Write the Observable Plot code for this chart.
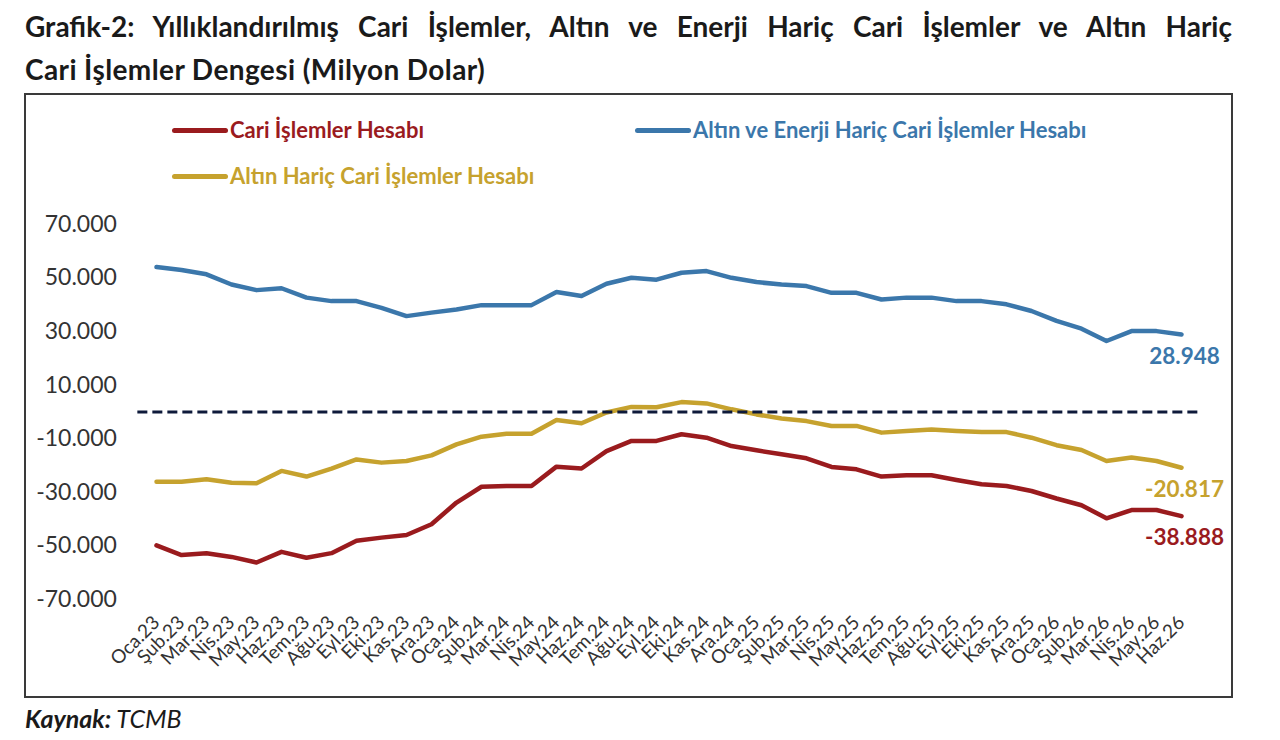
<!DOCTYPE html>
<html><head><meta charset="utf-8">
<script src="https://cdn.jsdelivr.net/npm/d3@7"></script>
<script src="https://cdn.jsdelivr.net/npm/@observablehq/plot@0.6"></script>
<style>
body{margin:0;background:#fff;font-family:Lato,"Open Sans",sans-serif;}
#wrap{position:relative;width:1280px;height:740px;overflow:hidden;background:#fff;}
#title{position:absolute;left:25px;top:5px;width:1207px;font-weight:bold;font-size:28px;line-height:43px;color:#1a1a1a;}
#t1{text-align:justify;text-align-last:justify;}
#t2{letter-spacing:0.4px;}
#box{position:absolute;left:24px;top:93px;width:1205px;height:601px;border:2px solid #3a3a3a;}
#box svg{position:absolute;left:0;top:0;}
.lg{position:absolute;display:flex;align-items:center;font-weight:bold;font-size:22px;line-height:22px;}
.sw{width:56px;height:5px;border-radius:3px;margin-right:2px;}
#src{position:absolute;left:25px;top:703px;font-size:25px;font-style:italic;color:#1a1a1a;}
</style></head>
<body><div id="wrap">
<div id="title"><div id="t1">Grafik-2: Yıllıklandırılmış Cari İşlemler, Altın ve Enerji Hariç Cari İşlemler ve Altın Hariç</div><div id="t2">Cari İşlemler Dengesi (Milyon Dolar)</div></div>
<div id="box"></div>
<div id="legend"></div>
<div id="src"><b>Kaynak:</b> TCMB</div>
</div>
<script>
const months = ["Oca.23","Şub.23","Mar.23","Nis.23","May.23","Haz.23","Tem.23","Ağu.23","Eyl.23","Eki.23","Kas.23","Ara.23",
"Oca.24","Şub.24","Mar.24","Nis.24","May.24","Haz.24","Tem.24","Ağu.24","Eyl.24","Eki.24","Kas.24","Ara.24",
"Oca.25","Şub.25","Mar.25","Nis.25","May.25","Haz.25","Tem.25","Ağu.25","Eyl.25","Eki.25","Kas.25","Ara.25",
"Oca.26","Şub.26","Mar.26","Nis.26","May.26","Haz.26"];
const cari = [-49800,-53400,-52700,-54100,-56200,-52200,-54400,-52700,-48100,-46900,-45900,-41900,
-33800,-27900,-27600,-27600,-20400,-21100,-14600,-10800,-10800,-8300,-9600,-12700,
-14300,-15800,-17300,-20500,-21400,-24100,-23600,-23600,-25400,-27000,-27600,-29500,
-32300,-34800,-39700,-36600,-36600,-38888];
const altinHaric = [-26000,-26000,-25100,-26400,-26600,-22000,-24100,-21100,-17700,-18900,-18300,-16200,
-12100,-9200,-8100,-8100,-3000,-4200,-200,1900,1800,3700,3200,1000,
-900,-2400,-3400,-5200,-5200,-7700,-7100,-6500,-7100,-7500,-7500,-9600,
-12400,-14200,-18300,-17000,-18300,-20817];
const altinEnerjiHaric = [54100,53000,51400,47600,45500,46200,42700,41400,41400,38900,35800,37100,
38300,39900,39900,39900,44800,43300,47900,50100,49400,52000,52600,50100,
48500,47600,47000,44500,44500,42000,42700,42700,41400,41400,40200,37700,
34000,31100,26500,30200,30200,28948];
const seriesNames = ["Cari İşlemler Hesabı","Altın ve Enerji Hariç Cari İşlemler Hesabı","Altın Hariç Cari İşlemler Hesabı"];
const seriesColors = ["#9a1b1e","#3b77ab","#c6a22e"];
const yTicks = [-70000,-50000,-30000,-10000,10000,30000,50000,70000];

const loc = d3.formatLocale({decimal:",",thousands:".",grouping:[3],currency:["",""],minus:"-"});
const fmt = loc.format(",d");

const seriesValues = [cari, altinEnerjiHaric, altinHaric];
const rows = [];
seriesNames.forEach((s,k)=>months.forEach((m,i)=>rows.push({month:m,value:seriesValues[k][i],series:s})));
const last = rows.filter(d=>d.month===months[months.length-1]);

const chart = Plot.plot({
  width:1205, height:601,
  marginLeft:111.35, marginRight:31.35, marginTop:129, marginBottom:97,
  style:{background:"transparent", fontFamily:"Lato, 'Open Sans', sans-serif", color:"#333", overflow:"visible"},
  x:{type:"point", domain:months, padding:0.5, label:null},
  y:{domain:[-70000,70000], label:null},
  color:{domain:seriesNames, range:seriesColors},
  marks:[
    Plot.axisY({ticks:yTicks, tickFormat:fmt, tickSize:0, tickPadding:21, fontSize:23, label:null}),
    Plot.axisX({tickSize:0, tickRotate:-45, tickPadding:20, fontSize:19, label:null}),
    Plot.line(rows, {x:"month", y:"value", z:"series", stroke:"series", strokeWidth:4.5, strokeLinejoin:"round", strokeLinecap:"round"}),
    Plot.ruleY([0], {stroke:"#0e1a3a", strokeWidth:3.2, strokeDasharray:"10,5"}),
    Plot.text(last, {x:"month", y:"value", text:d=>fmt(d.value), fill:"series", dy:22, dx:3, fontWeight:"bold", fontSize:22.5})
  ]
});
document.getElementById("box").appendChild(chart);

const lgPos = [[172,119],[635,119],[172,165]];
const lg = document.getElementById("legend");
seriesNames.forEach((s,k)=>{
  const d = document.createElement("div");
  d.className="lg"; d.style.left=lgPos[k][0]+"px"; d.style.top=lgPos[k][1]+"px"; d.style.color=seriesColors[k];
  d.innerHTML = `<span class="sw" style="background:${seriesColors[k]}"></span>${s}`;
  lg.appendChild(d);
});
</script>
</body></html>
